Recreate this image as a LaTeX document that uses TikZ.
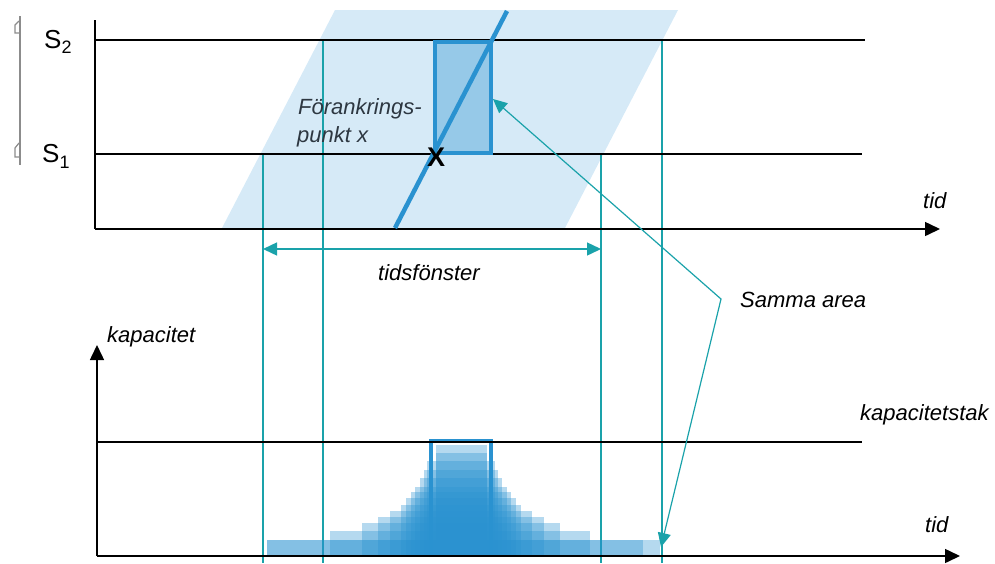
\documentclass[tikz,border=0pt]{standalone}
\usepackage{fontspec}
\setmainfont{Liberation Sans}
\usetikzlibrary{arrows.meta}
\definecolor{tblue}{RGB}{42,146,208}
\definecolor{lblue}{RGB}{214,234,247}
\definecolor{mblue}{RGB}{150,201,232}
\definecolor{tealc}{RGB}{26,162,170}
\definecolor{txtgray}{RGB}{45,55,65}
\begin{document}
\begin{tikzpicture}[x=1pt,y=-1pt,
  lbl/.style={font=\fontsize{22}{26}\selectfont\itshape, inner sep=0pt, anchor=base west},
  slbl/.style={font=\fontsize{26}{26}\selectfont, inner sep=0pt, anchor=base west},
  axisline/.style={line width=1.5pt, black},
  axisarrow/.style={line width=1.5pt, black, -{Triangle[length=15pt,width=14pt]}},
  guide/.style={line width=1.4pt, tealc},
  tarrow/.style={line width=1.4pt, tealc, {Triangle[length=14pt,width=13pt]}-{Triangle[length=14pt,width=13pt]}},
  stair/.style={fill=tblue, fill opacity=0.35},
  grayb/.style={line width=1.2pt, black!45}
]
\useasboundingbox (0,0) rectangle (995,563);

% ---------- top diagram ----------
\fill[lblue] (335,10) -- (678,10) -- (565,228) -- (222,228) -- cycle;

% guides (teal verticals)
\coordinate (g1t) at (263,154); \coordinate (g1b) at (263,563);
\coordinate (g2t) at (323,40);  \coordinate (g2b) at (323,563);
\coordinate (g3t) at (601,154); \coordinate (g3b) at (601,563);
\coordinate (g4t) at (662,40);  \coordinate (g4b) at (662,563);
\draw[guide] (g1t) -- (g1b);
\draw[guide] (g2t) -- (g2b);
\draw[guide] (g3t) -- (g3b);
\draw[guide] (g4t) -- (g4b);

% S lines
\coordinate (s2a) at (95,40);  \coordinate (s2b) at (865,40);
\coordinate (s1a) at (95,154); \coordinate (s1b) at (862,154);
\draw[axisline] (s2a) -- (s2b);
\draw[axisline] (s1a) -- (s1b);

% top axes
\coordinate (yt) at (95,20); \coordinate (o1) at (95,229); \coordinate (xt) at (940,229);
\draw[axisline] (yt) -- (o1);
\draw[axisarrow] (o1) -- (xt);

% rectangle + trajectory line
\fill[mblue] (433,40) rectangle (493,155);
\draw[tblue, line width=4pt] (435,42) rectangle (491,153);
\coordinate (la) at (395,228); \coordinate (lb) at (507,11);
\draw[tblue, line width=4.5pt] (la) -- (lb);

\node[font=\fontsize{27}{27}\selectfont\bfseries, inner sep=0pt] (xmark) at (436,157) {X};

\node[lbl, text=txtgray] (fa1) at (298,114) {Förankrings-};
\node[lbl, text=txtgray] (fa2) at (297,142) {punkt x};

\node[slbl] (s2) at (44,48) {S\raisebox{-5pt}{\fontsize{18}{18}\selectfont 2}};
\node[slbl] (s1) at (42,162) {S\raisebox{-6pt}{\fontsize{18}{18}\selectfont 1}};

% gray bracket left
\draw[grayb] (20,16) -- (20,165);
\draw[grayb] (19,21) -- (15,25) -- (15,33) -- (20,33);
\draw[grayb] (19,143) -- (15,148) -- (15,157) -- (20,157);

\node[lbl] (tid1) at (923,208) {tid};

% tidsfönster
\coordinate (tf1) at (263,249); \coordinate (tf2) at (601,249);
\draw[tarrow] (tf1) -- (tf2);
\node[lbl] (tfl) at (378,280) {tidsfönster};

% ---------- bottom diagram ----------
\foreach \l/\r/\t in {267/660/540, 267/643/540, 330/590/531, 362/560/523, 378/544/517,
  390/532/511, 401/521/505, 406/516/498, 411/511/492, 415/507/487, 420/502/478,
  424/498/470, 427/495/461, 436/487/453, 436/487/445}
  \fill[stair] (\l,\t) rectangle (\r,556);
\draw[tblue, line width=3.5pt] (431,557) -- (431,441) -- (491,441) -- (491,557);

\coordinate (o2) at (97,556); \coordinate (yk) at (97,345); \coordinate (xk) at (960,556);
\draw[axisarrow] (o2) -- (yk);
\draw[axisarrow] (o2) -- (xk);
\coordinate (ka) at (97,442); \coordinate (kb) at (862,442);
\draw[axisline] (ka) -- (kb);

\node[lbl] (kap) at (107,342) {kapacitet};
\node[lbl] (kaptak) at (860,420) {kapacitetstak};
\node[lbl] (tid2) at (925,532) {tid};

% Samma area
\node[lbl] (samma) at (740,307) {Samma area};
\coordinate (sa1) at (493,99); \coordinate (sav) at (721,299); \coordinate (sa2) at (661,547);
\draw[tarrow, line width=1.2pt] (sa1) -- (sav) -- (sa2);
\end{tikzpicture}
\end{document}
